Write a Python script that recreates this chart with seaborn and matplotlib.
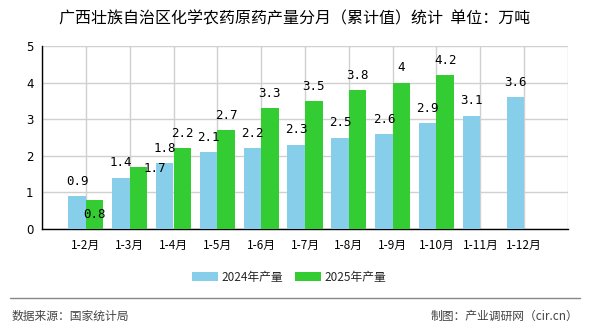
import numpy as np
import pandas as pd
import matplotlib
matplotlib.use("Agg")
import matplotlib.pyplot as plt
import seaborn as sns
from matplotlib.patches import Patch
from matplotlib.lines import Line2D

categories = ["1-2月", "1-3月", "1-4月", "1-5月", "1-6月", "1-7月", "1-8月",
              "1-9月", "1-10月", "1-11月", "1-12月"]
values_2024 = [0.9, 1.4, 1.8, 2.1, 2.2, 2.3, 2.5, 2.6, 2.9, 3.1, 3.6]
values_2025 = [0.8, 1.7, 2.2, 2.7, 3.3, 3.5, 3.8, 4.0, 4.2, np.nan, np.nan]
series_names = ["2024年产量", "2025年产量"]
yticks = [0, 1, 2, 3, 4, 5]
title = "广西壮族自治区化学农药原药产量分月（累计值）统计  单位：万吨"
source_text = "数据来源：国家统计局"
credit_text = "制图：产业调研网（cir.cn）"

colors = ["#87CEEB", "#33CC33"]

df = pd.DataFrame({
    "cat": categories * 2,
    "series": [series_names[0]] * len(categories) + [series_names[1]] * len(categories),
    "val": values_2024 + values_2025,
})

sns.set_theme(style="white")
plt.rcParams["font.family"] = ["Noto Sans CJK SC", "DejaVu Sans"]

fig = plt.figure(figsize=(5.9, 3.3), dpi=100)
ax = fig.add_axes([42 / 590, 1 - 229 / 330, (568 - 42) / 590, (229 - 46) / 330])

sns.barplot(data=df, x="cat", y="val", hue="series", order=categories,
            hue_order=series_names, palette=colors, ax=ax, width=0.8,
            saturation=1, errorbar=None, legend=False, zorder=3,
            linewidth=0, edgecolor="none")

n = len(categories)
ax.set_xlim(-1, n)
ax.set_ylim(0, 5)
ax.set_yticks(yticks)
ax.set_yticklabels([str(v) for v in yticks], fontsize=8.5, family="DejaVu Sans")
xt = list(range(-1, n + 1))
ax.set_xticks(xt)
ax.set_xticklabels([""] + categories + [""], fontsize=8.5)
ax.set_xlabel("")
ax.set_ylabel("")
ax.grid(True, color="#d0d0d0", linewidth=1, zorder=0)
ax.set_axisbelow(True)
for s in ["top", "right"]:
    ax.spines[s].set_visible(False)
ax.spines["left"].set_color("black")
ax.spines["bottom"].set_color("black")
ax.spines["left"].set_linewidth(1)
ax.spines["bottom"].set_linewidth(1)
ax.tick_params(axis="both", which="both", direction="out", length=4, width=1,
               colors="black", labelcolor="black", pad=2)
ax.tick_params(axis="x", pad=3)

# data labels (two labels shifted to avoid overlap, as in the reference)
for si, vals in enumerate([values_2024, values_2025]):
    for i, v in enumerate(vals):
        if np.isnan(v):
            continue
        x = i + (-0.2 if si == 0 else 0.2)
        if si == 1 and i == 0:
            dx, dy = 0, -15
        elif si == 1 and i == 1:
            dx, dy = 12, -6
        else:
            dx, dy = 0, 6
        ax.annotate("%g" % v, (x, v), xytext=(dx, dy), textcoords="offset points",
                    ha="center", va="bottom", fontsize=9,
                    family="DejaVu Sans Mono", color="black", zorder=5)

fig.text(0.5, 1 - 19 / 330, title, ha="center", va="center", fontsize=11.5, color="black")

handles = [Patch(facecolor=colors[0], edgecolor="none"),
           Patch(facecolor=colors[1], edgecolor="none")]
fig.legend(handles, series_names, loc="center", bbox_to_anchor=(0.49, 1 - 277 / 330),
           ncol=2, frameon=False, fontsize=8.5, handlelength=2.2, handleheight=0.8,
           columnspacing=1.0, handletextpad=0.3)

fig.add_artist(Line2D([10 / 590, 580 / 590], [1 - 298 / 330] * 2,
                      transform=fig.transFigure, color="#888888", linewidth=1))
fig.text(12 / 590, 1 - 316 / 330, source_text, ha="left", va="center", fontsize=8.5, color="#444444")
fig.text(578 / 590, 1 - 316 / 330, credit_text, ha="right", va="center", fontsize=8.5, color="#444444")

fig.savefig("out.png", dpi=100)
